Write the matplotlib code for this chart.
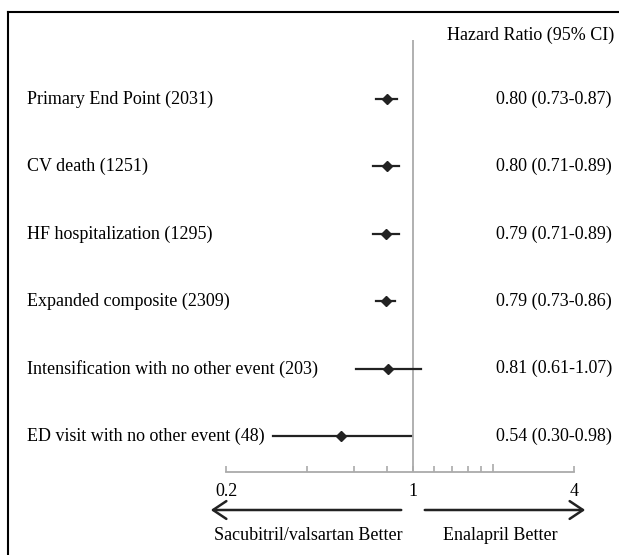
import matplotlib
matplotlib.use("Agg")
import matplotlib.pyplot as plt
from matplotlib.lines import Line2D
from matplotlib.patches import FancyArrowPatch

labels = [
    "Primary End Point (2031)",
    "CV death (1251)",
    "HF hospitalization (1295)",
    "Expanded composite (2309)",
    "Intensification with no other event (203)",
    "ED visit with no other event (48)",
]
hr = [0.80, 0.80, 0.79, 0.79, 0.81, 0.54]
lo = [0.73, 0.71, 0.71, 0.73, 0.61, 0.30]
hi = [0.87, 0.89, 0.89, 0.86, 1.07, 0.98]
hr_text = [
    "0.80 (0.73-0.87)",
    "0.80 (0.71-0.89)",
    "0.79 (0.71-0.89)",
    "0.79 (0.73-0.86)",
    "0.81 (0.61-1.07)",
    "0.54 (0.30-0.98)",
]
ticks = [0.2, 0.4, 0.6, 0.8, 1, 1.2, 1.4, 1.6, 1.8, 2, 4]
tick_labels = ["0.2", "", "", "", "1", "", "", "", "", "", "4"]

plt.rcParams["font.family"] = ["Liberation Serif", "DejaVu Serif"]
W, H = 619, 555
FS = 13
fig = plt.figure(figsize=(W / 100, H / 100), dpi=100)

# axes: x 0.2..4 -> px 226..574, y px 40..472
ax = fig.add_axes([226 / W, 1 - 472 / H, 348 / W, 432 / H])
ax.set_xscale("log")
ax.set_xlim(0.2, 4)
ax.set_ylim(5.53, -0.875)

grey = "#aaaaaa"
ax.axvline(1, color=grey, lw=1.3, zorder=1)

for i in range(len(labels)):
    ax.plot([lo[i], hi[i]], [i, i], color="#222222", lw=1.6, zorder=2)
    ax.plot(hr[i], i, marker="D", ms=5, color="#222222", zorder=3)
    yf = ax.transData.transform((1, i))[1] / H
    fig.text(27 / W, yf, labels[i], ha="left", va="center", fontsize=FS)
    fig.text(612 / W, yf, hr_text[i], ha="right", va="center", fontsize=FS)

for s in ["top", "left", "right"]:
    ax.spines[s].set_visible(False)
ax.spines["bottom"].set_color(grey)
ax.spines["bottom"].set_linewidth(1.3)
ax.set_yticks([])
ax.set_xticks(ticks)
ax.set_xticklabels(tick_labels)
ax.minorticks_off()
ax.tick_params(axis="x", direction="in", length=4, width=1.2, color=grey,
               pad=8, labelsize=FS)
ax.xaxis.get_major_ticks()[ticks.index(2)].tick1line.set_markersize(6)
ax.patch.set_alpha(0)

fig.text(614 / W, 1 - 35 / H, "Hazard Ratio (95% CI)", ha="right",
         va="center", fontsize=FS)

# direction arrows
y_arr = 1 - 510 / H
for x0, x1 in [(404, 208), (422, 588)]:
    fig.add_artist(FancyArrowPatch((x0 / W, y_arr), (x1 / W, y_arr),
                                   transform=fig.transFigure,
                                   arrowstyle="->,head_length=0.6,head_width=0.4",
                                   color="#222222", lw=1.8, mutation_scale=16))
fig.text(308 / W, 1 - 536 / H, "Sacubitril/valsartan Better", ha="center",
         va="center", fontsize=FS)
fig.text(500 / W, 1 - 536 / H, "Enalapril Better", ha="center",
         va="center", fontsize=FS)

# frame (cropped on right and bottom)
fig.add_artist(Line2D([8 / W, 8 / W], [0, 1 - 12 / H], color="black", lw=1.5,
                      transform=fig.transFigure))
fig.add_artist(Line2D([8 / W, 1], [1 - 12 / H, 1 - 12 / H], color="black",
                      lw=1.5, transform=fig.transFigure))

fig.savefig("out.png", dpi=100)
